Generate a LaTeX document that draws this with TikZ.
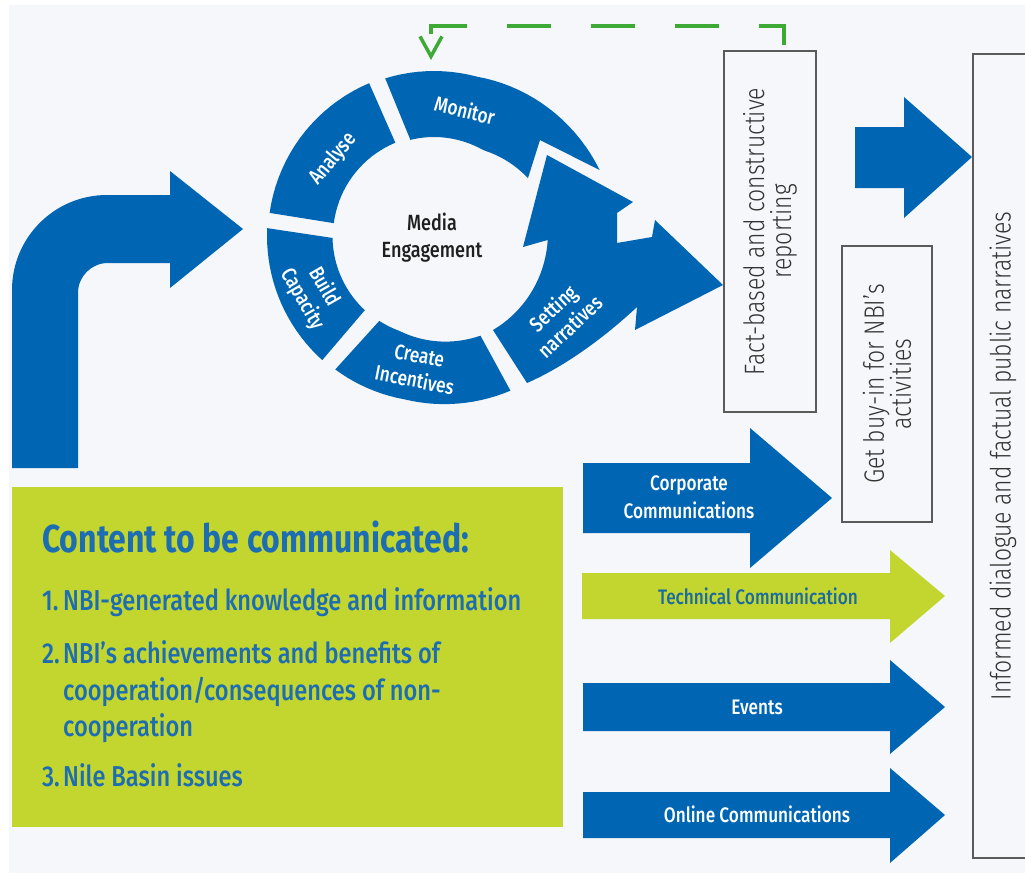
\documentclass[tikz,border=0pt]{standalone}
\usepackage{fontspec}
\setmainfont{Fira Sans}[FakeStretch=0.82]
\newfontfamily\medfont{Fira Sans Medium}[FakeStretch=0.82]
\newfontfamily\lightfont{Fira Sans Light}[FakeStretch=0.82]
\usetikzlibrary{arrows.meta}

\definecolor{nbiblue}{HTML}{0066B3}
\definecolor{nbigreen}{HTML}{C3D62F}
\definecolor{bgpanel}{HTML}{F5F7FA}
\definecolor{dashgreen}{HTML}{3DAA35}
\definecolor{titleblue}{HTML}{1D6DB2}
\definecolor{techtext}{HTML}{1B6B9E}
\definecolor{boxline}{HTML}{5A5A5A}
\definecolor{boxtext}{HTML}{333333}

\tikzset{
  ringpiece/.style={fill=nbiblue},
  ringlabel/.style={text=white, font=\medfont\fontsize{21}{25}\selectfont, align=center, inner sep=0pt},
  flowarrow/.style={fill=nbiblue},
  techarrow/.style={fill=nbigreen},
  arrowlabel/.style={text=white, font=\medfont\fontsize{21}{28}\selectfont, align=center, inner sep=0pt},
  outcome/.style={draw=boxline, line width=1.5pt, text=boxtext, font=\lightfont\fontsize{28}{27}\selectfont,
    align=center, rotate=90, inner sep=0pt},
  contentitem/.style={text=titleblue, font=\medfont\fontsize{28.8}{32}\selectfont, anchor=base west, inner sep=0pt},
  dashlink/.style={draw=dashgreen, line width=4pt, dash pattern=on 44pt off 40pt, shorten <=5pt,
    -{Straight Barb[length=20pt,width=22pt,line width=3.5pt]}}
}

\begin{document}
\begin{tikzpicture}[x=1pt,y=-1pt]
	\useasboundingbox (0,0) rectangle (1025,873);
	\clip (0,0) rectangle (1025,873);
	\fill[white] (0,0) rectangle (1025,873);
	\fill[bgpanel] (9,5) rectangle (1025,873);

	% bent arrow into the cycle
	\fill[flowarrow] (12,468) -- (12,290) .. controls (12,237.5) and (54.5,195) .. (107,195) -- (170,195) -- (170,171) -- (243,229) -- (170,288) -- (170,263) -- (108,263) .. controls (91.4,263) and (78,276.4) .. (78,293) -- (78,468) -- cycle;

	% media engagement cycle
	\begin{scope}[shift={(434,236)}]
		\fill[ringpiece] plot[variable=\t, domain=252.8:338.3, samples=30] (\t:{165+max(0,\t-285)*0.25}) -- (106,-96) -- (94,-58) -- plot[variable=\t, domain=328.3:256.2, samples=30] (\t:{99+max(0,\t-300)*0.4}) -- cycle;
		\fill[ringpiece] plot[variable=\t, domain=188:247, samples=20] (\t:166) -- plot[variable=\t, domain=247.5:187.3, samples=20] (\t:101) -- cycle;
		\fill[ringpiece] plot[variable=\t, domain=132:182.7, samples=20] (\t:167) -- plot[variable=\t, domain=178.9:133, samples=20] (\t:101.5) -- cycle;
		\fill[ringpiece] plot[variable=\t, domain=126.5:63.7, samples=25] (\t:{166+max(0,100-\t)*0.18}) -- plot[variable=\t, domain=65:122.8, samples=25] (\t:{101+max(0,110-\t)*0.2}) -- cycle;
		\fill[ringpiece] (93,147) -- plot[variable=\t, domain=57.9:2, samples=20] (\t:{111+(58-\t)*0.05}) -- (89,11) -- (113,-81) -- (199,-34) -- (183,-23) -- (183,7) -- (218,1) -- (221,-16) -- (289,49) -- (201,94) -- (203,71) .. controls (172,100) and (132,130) .. (93,147) -- cycle;
	\end{scope}
	\node[ringlabel, rotate=-14] (monitor) at (465,110) {Monitor};
	\node[ringlabel, rotate=50] (analyse) at (333,159) {Analyse};
	\node[ringlabel, rotate=-60] (build) at (313,293) {Build\\Capacity};
	\node[ringlabel, rotate=-11] (create) at (417,368) {Create\\Incentives};
	\node[ringlabel, rotate=43] (setting) at (561,317) {Setting\\narratives};
	\node[text=black!88, font=\medfont\fontsize{22}{27}\selectfont, align=center] (media) at (432,238) {Media\\Engagement};

	% outcome boxes
	\node[outcome, minimum width=361pt, minimum height=92pt] (fact) at (770,231.5) {Fact-based and constructive\\reporting};
	\node[outcome, minimum width=276pt, minimum height=90pt] (buyin) at (887,384) {Get buy-in for NBI’s\\activities};
	\node[outcome, minimum width=804pt, minimum height=60pt] (narr) at (1003,456) {Informed dialogue and factual public narratives};
	\fill[flowarrow] (855,127) -- (904,127) -- (904,97) -- (972,157) -- (904,218) -- (904,188) -- (855,188) -- cycle;

	% feedback
	\coordinate (monTop) at (431,60);
	\draw[dashlink] ([xshift=14pt]fact.east) -- ++(0,-24) -| (monTop);

	% content
	\fill[nbigreen] (12,487) rectangle (563,827);
	\node[contentitem, font=\fontsize{39}{40}\selectfont\bfseries] (title) at (42,552) {Content to be communicated:};
	\node[contentitem] (item1) at (42,610) {\makebox[21pt][l]{1.}NBI-generated knowledge and information};
	\node[contentitem] (item2a) at (42,663) {\makebox[21pt][l]{2.}NBI’s achievements and benefits of};
	\node[contentitem] (item2b) at (63,700) {cooperation/consequences of non-};
	\node[contentitem] (item2c) at (63,736) {cooperation};
	\node[contentitem] (item3) at (42,786) {\makebox[21pt][l]{3.}Nile Basin issues};

	% channels
	\fill[flowarrow] (583,463) -- (750,463) -- (750,428) -- (832,498) -- (750,568) -- (750,533) -- (583,533) -- cycle;
	\node[arrowlabel] (corporate) at (689,497) {Corporate\\Communications};
	\fill[techarrow] (582,573) -- (890,573) -- (890,550) -- (945,596) -- (890,643) -- (890,619) -- (582,619) -- cycle;
	\node[arrowlabel, text=techtext] (technical) at (758,596) {Technical Communication};
	\fill[flowarrow] (583,683) -- (890,683) -- (890,660) -- (945,707) -- (890,754) -- (890,731) -- (583,731) -- cycle;
	\node[arrowlabel] (events) at (757,707) {Events};
	\fill[flowarrow] (583,792) -- (890,792) -- (890,768) -- (945,815) -- (890,863) -- (890,838) -- (583,838) -- cycle;
	\node[arrowlabel] (online) at (757,814) {Online Communications};
\end{tikzpicture}
\end{document}
